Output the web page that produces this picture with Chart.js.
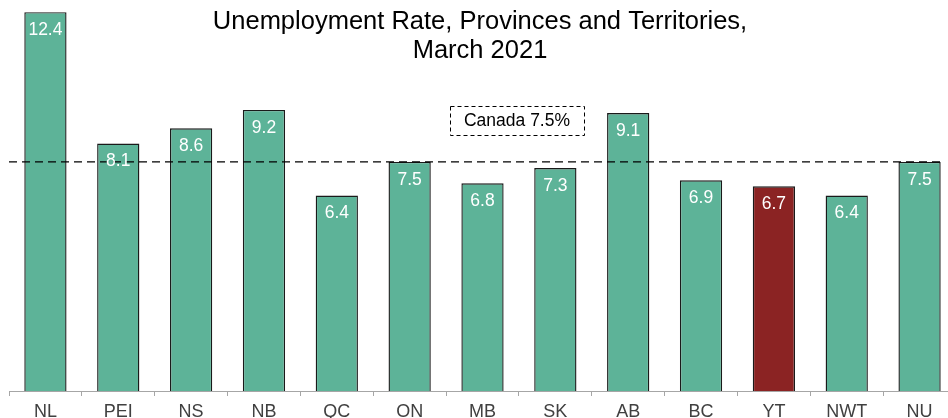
<!DOCTYPE html>
<html>
<head>
<meta charset="utf-8">
<script src="https://cdn.jsdelivr.net/npm/chart.js@4.4.1/dist/chart.umd.min.js"></script>
<style>
  html, body { margin: 0; padding: 0; background: #fff; overflow: hidden; }
  #wrap { position: relative; width: 956px; height: 421px; }
</style>
</head>
<body>
<div id="wrap"><canvas id="chart"></canvas></div>
<script>
// Unemployment rate by province / territory, March 2021
const regions = ['NL', 'PEI', 'NS', 'NB', 'QC', 'ON', 'MB', 'SK', 'AB', 'BC', 'YT', 'NWT', 'NU'];
const rates = [12.4, 8.1, 8.6, 9.2, 6.4, 7.5, 6.8, 7.3, 9.1, 6.9, 6.7, 6.4, 7.5];
const canadaRate = 7.5;
const titleLines = ['Unemployment Rate, Provinces and Territories,', 'March 2021'];

const GREEN = '#5db398';
const RED = '#8b2323';
const FONT = '"Liberation Sans", Arial, sans-serif';

const barColors = regions.map(r => r === 'YT' ? RED : GREEN);

// title, canada line + box, value labels
const overlay = {
    id: 'overlay',
    afterDatasetsDraw(chart) {
        const ctx = chart.ctx;
        const y = chart.scales.y;
        const area = chart.chartArea;

        // Canada average line
        const yc = y.getPixelForValue(canadaRate);
        ctx.save();
        ctx.strokeStyle = '#000';
        ctx.lineWidth = 1.2;
        ctx.setLineDash([8, 5]);
        ctx.beginPath();
        ctx.moveTo(area.left, yc);
        ctx.lineTo(940, yc);
        ctx.stroke();

        // Canada box
        ctx.lineWidth = 1;
        ctx.setLineDash([4, 3]);
        ctx.strokeRect(450.5, 106.5, 134, 29);
        ctx.setLineDash([]);
        ctx.fillStyle = '#000';
        ctx.font = '17.5px ' + FONT;
        ctx.textAlign = 'center';
        ctx.textBaseline = 'middle';
        ctx.fillText('Canada ' + canadaRate + '%', 517, 121);

        // value labels
        const meta = chart.getDatasetMeta(0);
        ctx.fillStyle = '#fff';
        ctx.font = '17.5px ' + FONT;
        meta.data.forEach((bar, i) => {
            ctx.fillText(rates[i].toFixed(1), bar.x, bar.y + 18);
        });

        // title
        ctx.fillStyle = '#000';
        ctx.font = '25.5px ' + FONT;
        ctx.textBaseline = 'alphabetic';
        ctx.fillText(titleLines[0], 480, 29);
        ctx.fillText(titleLines[1], 480, 58);
        ctx.restore();
    }
};

new Chart(document.getElementById('chart'), {
    type: 'bar',
    data: {
        labels: regions,
        datasets: [{
            data: rates,
            backgroundColor: barColors,
            borderColor: '#1a1a1a',
            borderWidth: 1.4,
            categoryPercentage: 1,
            barPercentage: 0.58
        }]
    },
    options: {
        responsive: true,
        maintainAspectRatio: false,
        animation: false,
        layout: { padding: { left: 9, right: 0, top: 0, bottom: 0 } },
        plugins: {
            legend: { display: false },
            tooltip: { enabled: false }
        },
        scales: {
            x: {
                grid: { drawOnChartArea: false, drawTicks: true, tickLength: 5, color: '#a6a6a6', offset: true },
                border: { display: true, color: '#a6a6a6', width: 1 },
                ticks: { color: '#404040', font: { family: FONT, size: 18 }, padding: 5 },
                afterFit(scale) { scale.height = 30; }
            },
            y: {
                display: false,
                min: 0,
                max: 12.8
            }
        }
    },
    plugins: [overlay]
});
</script>
</body>
</html>
